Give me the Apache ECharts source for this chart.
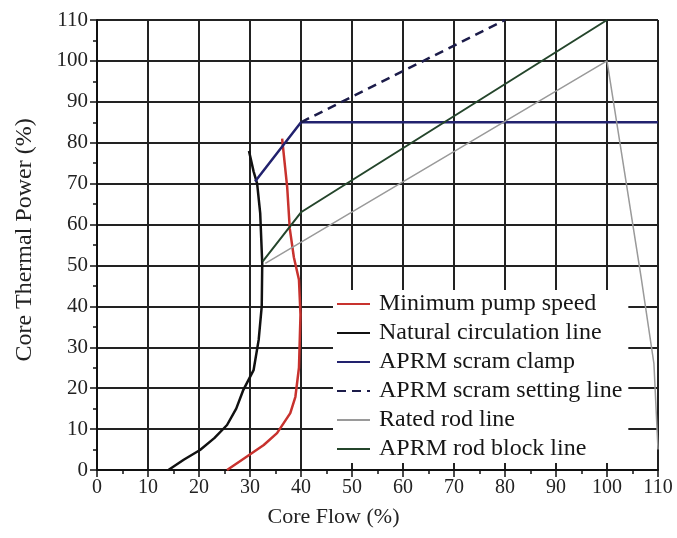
<!DOCTYPE html>
<html>
<head>
<meta charset="utf-8">
<script src="https://cdn.jsdelivr.net/npm/echarts@6/dist/echarts.min.js"></script>
<style>
  html, body { margin: 0; padding: 0; background: #fff; }
  #box { width: 677px; height: 538px; }
</style>
</head>
<body>
<div id="box"></div>
<script>
// series names (legend order)
var names = ['Minimum pump speed', 'Natural circulation line', 'APRM scram clamp',
    'APRM scram setting line', 'Rated rod line', 'APRM rod block line'];

// [core flow %, core thermal power %]
var minPump = [[25.5, 0], [29.4, 3.3], [32.7, 6.1], [35.3, 9], [37.9, 13.9], [38.9, 17.9],
    [39.6, 25], [39.9, 38], [39.6, 46.5], [38.6, 52], [37.8, 59], [37.3, 69], [36.3, 81]];
var naturalCirc = [[14, 0], [17, 2.5], [20.2, 4.9], [23, 7.8], [25.5, 11], [27.3, 15],
    [28.7, 19.6], [30.7, 24.4], [31.7, 31.8], [32.3, 40], [32.4, 50.5], [32, 62.8],
    [31.4, 70], [30.7, 73], [29.8, 78]];
var scramClamp = [[31, 70.5], [40, 85], [110, 85]];
var scramSetting = [[40, 85], [80, 110]];
var ratedRod = [[33, 50.5], [100, 100], [106.7, 47], [109.2, 26], [110, 5]];
var rodBlock = [[32.5, 51], [40, 63], [100, 110]];

var colors = ['#c8322e', '#111111', '#22226e', '#1c1c4a', '#9a9a9a', '#24452b'];
var font = 'Liberation Serif';

window.onload = function () {
    var charts = echarts.init(document.getElementById('box'));

    function line(i, data, width, type) {
        return {
            name: names[i],
            type: 'line',
            data: data,
            symbol: 'none',
            smooth: false,
            color: colors[i],
            lineStyle: {color: colors[i], width: width, type: type || 'solid'}
        };
    }

    var axisCommon = {
        type: 'value',
        min: 0,
        max: 110,
        interval: 10,
        axisLine: {show: true, lineStyle: {color: '#111', width: 2}},
        axisTick: {show: true, length: 7, lineStyle: {color: '#111', width: 1.5}},
        minorTick: {show: true, splitNumber: 2, length: 4, lineStyle: {color: '#111', width: 1.5}},
        splitLine: {show: true, lineStyle: {color: '#222', width: 2}},
        axisLabel: {color: '#222', fontFamily: font, fontSize: 20},
        nameLocation: 'middle',
        nameTextStyle: {color: '#222', fontFamily: font, fontSize: 22}
    };

    var option = {
        animation: false,
        backgroundColor: '#fff',
        grid: {left: 97, right: 19, top: 20, bottom: 68},
        xAxis: Object.assign({}, axisCommon, {
            name: 'Core Flow (%)',
            nameGap: 36,
            axisLabel: Object.assign({}, axisCommon.axisLabel, {margin: 8}),
            nameTextStyle: Object.assign({}, axisCommon.nameTextStyle, {padding: [0, 88, 0, 0]})
        }),
        yAxis: Object.assign({}, axisCommon, {
            name: 'Core Thermal Power (%)',
            nameGap: 60,
            axisLabel: Object.assign({}, axisCommon.axisLabel, {margin: 9, fontSize: 21}),
            nameTextStyle: Object.assign({}, axisCommon.nameTextStyle, {fontSize: 24, padding: [0, 0, 0, 10]})
        }),
        legend: {
            orient: 'vertical',
            left: 333,
            top: 290,
            itemWidth: 33,
            itemHeight: 14,
            itemGap: 5,
            padding: [2, 6, 2, 3],
            backgroundColor: '#fff',
            itemStyle: {opacity: 0},
            textStyle: {color: '#161616', fontFamily: font, fontSize: 24, padding: [0, 0, 0, 4]},
            data: names
        },
        series: [
            line(0, minPump, 2.5),
            line(1, naturalCirc, 2.5),
            line(2, scramClamp, 2.5),
            line(3, scramSetting, 2.5, [9, 6]),
            line(4, ratedRod, 1.5),
            line(5, rodBlock, 2)
        ]
    };

    charts.setOption(option);
};
</script>
</body>
</html>
